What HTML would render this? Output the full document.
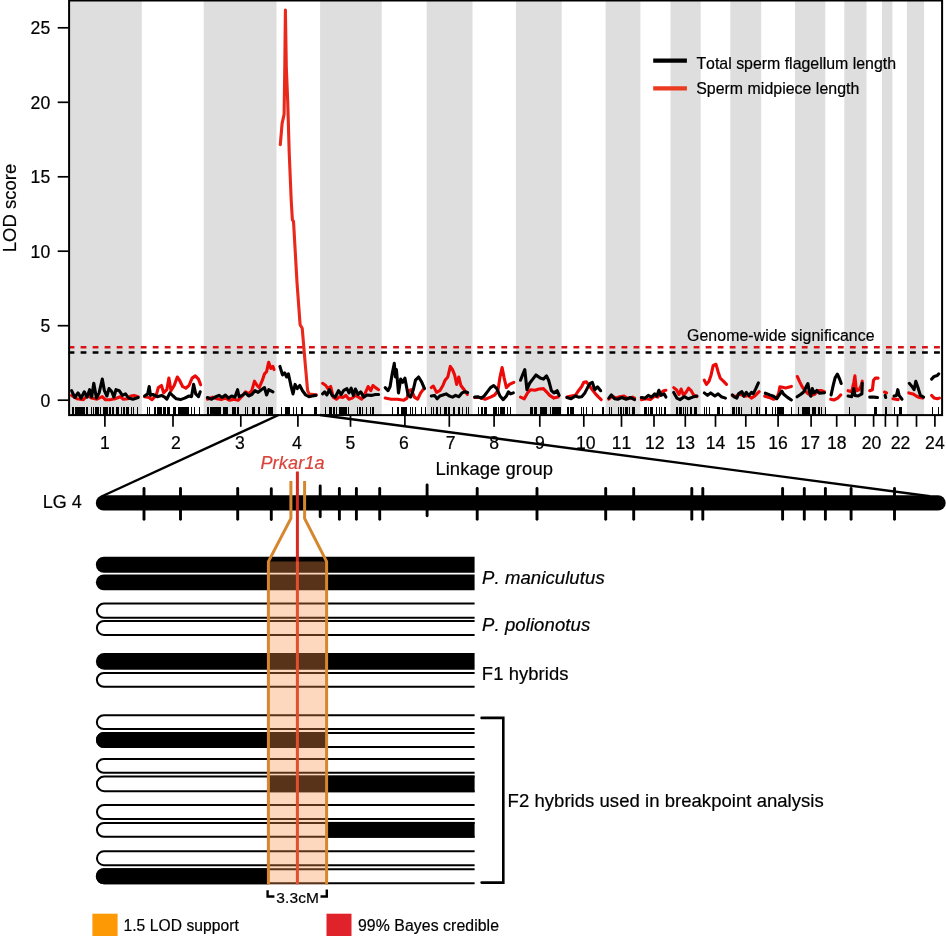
<!DOCTYPE html>
<html><head><meta charset="utf-8"><title>Figure</title>
<style>html,body{margin:0;padding:0;background:#fff}svg{display:block;will-change:transform}text{font-kerning:none;stroke:#000;stroke-width:.2px}</style></head>
<body>
<svg width="946" height="936" viewBox="0 0 946 936" font-family="'Liberation Sans', Arial, Helvetica, sans-serif" fill="#000">
<rect width="946" height="936" fill="#fff"/>
<g fill="#dedede">
<rect x="68.6" y="0" width="73.2" height="415"/>
<rect x="203.7" y="0" width="72.8" height="415"/>
<rect x="320.1" y="0" width="61.6" height="415"/>
<rect x="426.7" y="0" width="45.8" height="415"/>
<rect x="515.9" y="0" width="45.8" height="415"/>
<rect x="605.6" y="0" width="34.8" height="415"/>
<rect x="670.5" y="0" width="30.2" height="415"/>
<rect x="730.3" y="0" width="30.9" height="415"/>
<rect x="795.0" y="0" width="30.3" height="415"/>
<rect x="844.3" y="0" width="22.2" height="415"/>
<rect x="882.0" y="0" width="10.4" height="415"/>
<rect x="906.9" y="0" width="17.2" height="415"/>
</g>
<line x1="68.6" x2="942" y1="347.2" y2="347.2" stroke="#d81418" stroke-width="2.5" stroke-dasharray="5.8 6.22"/>
<line x1="68.6" x2="942" y1="352.4" y2="352.4" stroke="#000" stroke-width="2.5" stroke-dasharray="5.8 6.22"/>
<path d="M72.5 406.9V414.6M73.5 406.9V414.6M75.5 406.9V414.6M76.5 406.9V414.6M77.5 406.9V414.6M78.5 406.9V414.6M79.5 406.9V414.6M80.5 406.9V414.6M81.5 406.9V414.6M82.5 406.9V414.6M83.5 406.9V414.6M84.5 406.9V414.6M86.5 406.9V414.6M87.5 406.9V414.6M91.5 406.9V414.6M93.5 406.9V414.6M95.5 406.9V414.6M96.5 406.9V414.6M97.5 406.9V414.6M98.5 406.9V414.6M100.5 406.9V414.6M103.5 406.9V414.6M104.5 406.9V414.6M105.5 406.9V414.6M106.5 406.9V414.6M107.5 406.9V414.6M109.5 406.9V414.6M110.5 406.9V414.6M112.5 406.9V414.6M113.5 406.9V414.6M116.5 406.9V414.6M117.5 406.9V414.6M118.5 406.9V414.6M121.5 406.9V414.6M123.5 406.9V414.6M124.5 406.9V414.6M126.5 406.9V414.6M127.5 406.9V414.6M128.5 406.9V414.6M131.5 406.9V414.6M133.5 406.9V414.6M137.5 406.9V414.6M147.5 406.9V414.6M149.5 406.9V414.6M154.5 406.9V414.6M155.5 406.9V414.6M157.5 406.9V414.6M158.5 406.9V414.6M159.5 406.9V414.6M160.5 406.9V414.6M161.5 406.9V414.6M163.5 406.9V414.6M164.5 406.9V414.6M165.5 406.9V414.6M167.5 406.9V414.6M168.5 406.9V414.6M169.5 406.9V414.6M173.5 406.9V414.6M174.5 406.9V414.6M175.5 406.9V414.6M178.5 406.9V414.6M179.5 406.9V414.6M180.5 406.9V414.6M181.5 406.9V414.6M182.5 406.9V414.6M183.5 406.9V414.6M184.5 406.9V414.6M185.5 406.9V414.6M186.5 406.9V414.6M187.5 406.9V414.6M188.5 406.9V414.6M191.5 406.9V414.6M194.5 406.9V414.6M199.5 406.9V414.6M207.5 406.9V414.6M208.5 406.9V414.6M210.5 406.9V414.6M211.5 406.9V414.6M212.5 406.9V414.6M213.5 406.9V414.6M214.5 406.9V414.6M215.5 406.9V414.6M216.5 406.9V414.6M217.5 406.9V414.6M218.5 406.9V414.6M219.5 406.9V414.6M220.5 406.9V414.6M223.5 406.9V414.6M224.5 406.9V414.6M225.5 406.9V414.6M226.5 406.9V414.6M227.5 406.9V414.6M232.5 406.9V414.6M233.5 406.9V414.6M234.5 406.9V414.6M235.5 406.9V414.6M237.5 406.9V414.6M238.5 406.9V414.6M245.5 406.9V414.6M247.5 406.9V414.6M252.5 406.9V414.6M253.5 406.9V414.6M254.5 406.9V414.6M258.5 406.9V414.6M259.5 406.9V414.6M266.5 406.9V414.6M268.5 406.9V414.6M269.5 406.9V414.6M270.5 406.9V414.6M271.5 406.9V414.6M272.5 406.9V414.6M281.5 406.9V414.6M285.5 406.9V414.6M286.5 406.9V414.6M287.5 406.9V414.6M288.5 406.9V414.6M289.5 406.9V414.6M293.5 406.9V414.6M296.5 406.9V414.6M301.5 406.9V414.6M302.5 406.9V414.6M314.5 406.9V414.6M315.5 406.9V414.6M316.5 406.9V414.6M325.5 406.9V414.6M329.5 406.9V414.6M330.5 406.9V414.6M331.5 406.9V414.6M333.5 406.9V414.6M334.5 406.9V414.6M336.5 406.9V414.6M339.5 406.9V414.6M340.5 406.9V414.6M341.5 406.9V414.6M342.5 406.9V414.6M343.5 406.9V414.6M344.5 406.9V414.6M345.5 406.9V414.6M346.5 406.9V414.6M348.5 406.9V414.6M357.5 406.9V414.6M359.5 406.9V414.6M360.5 406.9V414.6M362.5 406.9V414.6M366.5 406.9V414.6M370.5 406.9V414.6M372.5 406.9V414.6M373.5 406.9V414.6M392.5 406.9V414.6M397.5 406.9V414.6M398.5 406.9V414.6M401.5 406.9V414.6M402.5 406.9V414.6M403.5 406.9V414.6M404.5 406.9V414.6M405.5 406.9V414.6M406.5 406.9V414.6M410.5 406.9V414.6M412.5 406.9V414.6M415.5 406.9V414.6M421.5 406.9V414.6M425.5 406.9V414.6M431.5 406.9V414.6M433.5 406.9V414.6M436.5 406.9V414.6M437.5 406.9V414.6M440.5 406.9V414.6M444.5 406.9V414.6M445.5 406.9V414.6M446.5 406.9V414.6M448.5 406.9V414.6M449.5 406.9V414.6M453.5 406.9V414.6M454.5 406.9V414.6M458.5 406.9V414.6M459.5 406.9V414.6M462.5 406.9V414.6M466.5 406.9V414.6M468.5 406.9V414.6M478.5 406.9V414.6M481.5 406.9V414.6M482.5 406.9V414.6M484.5 406.9V414.6M485.5 406.9V414.6M486.5 406.9V414.6M493.5 406.9V414.6M494.5 406.9V414.6M495.5 406.9V414.6M496.5 406.9V414.6M498.5 406.9V414.6M500.5 406.9V414.6M501.5 406.9V414.6M502.5 406.9V414.6M503.5 406.9V414.6M504.5 406.9V414.6M507.5 406.9V414.6M510.5 406.9V414.6M530.5 406.9V414.6M531.5 406.9V414.6M532.5 406.9V414.6M534.5 406.9V414.6M535.5 406.9V414.6M536.5 406.9V414.6M540.5 406.9V414.6M541.5 406.9V414.6M542.5 406.9V414.6M543.5 406.9V414.6M544.5 406.9V414.6M545.5 406.9V414.6M546.5 406.9V414.6M550.5 406.9V414.6M552.5 406.9V414.6M553.5 406.9V414.6M554.5 406.9V414.6M555.5 406.9V414.6M556.5 406.9V414.6M557.5 406.9V414.6M558.5 406.9V414.6M559.5 406.9V414.6M560.5 406.9V414.6M567.5 406.9V414.6M568.5 406.9V414.6M570.5 406.9V414.6M571.5 406.9V414.6M572.5 406.9V414.6M573.5 406.9V414.6M581.5 406.9V414.6M583.5 406.9V414.6M586.5 406.9V414.6M592.5 406.9V414.6M602.5 406.9V414.6M603.5 406.9V414.6M609.5 406.9V414.6M611.5 406.9V414.6M618.5 406.9V414.6M620.5 406.9V414.6M621.5 406.9V414.6M623.5 406.9V414.6M625.5 406.9V414.6M626.5 406.9V414.6M627.5 406.9V414.6M629.5 406.9V414.6M632.5 406.9V414.6M633.5 406.9V414.6M634.5 406.9V414.6M644.5 406.9V414.6M645.5 406.9V414.6M646.5 406.9V414.6M648.5 406.9V414.6M650.5 406.9V414.6M651.5 406.9V414.6M652.5 406.9V414.6M656.5 406.9V414.6M659.5 406.9V414.6M661.5 406.9V414.6M664.5 406.9V414.6M665.5 406.9V414.6M676.5 406.9V414.6M677.5 406.9V414.6M679.5 406.9V414.6M680.5 406.9V414.6M681.5 406.9V414.6M683.5 406.9V414.6M685.5 406.9V414.6M687.5 406.9V414.6M690.5 406.9V414.6M691.5 406.9V414.6M694.5 406.9V414.6M695.5 406.9V414.6M696.5 406.9V414.6M704.5 406.9V414.6M706.5 406.9V414.6M709.5 406.9V414.6M717.5 406.9V414.6M718.5 406.9V414.6M719.5 406.9V414.6M722.5 406.9V414.6M732.5 406.9V414.6M733.5 406.9V414.6M734.5 406.9V414.6M736.5 406.9V414.6M738.5 406.9V414.6M739.5 406.9V414.6M741.5 406.9V414.6M751.5 406.9V414.6M756.5 406.9V414.6M757.5 406.9V414.6M759.5 406.9V414.6M765.5 406.9V414.6M766.5 406.9V414.6M772.5 406.9V414.6M775.5 406.9V414.6M777.5 406.9V414.6M778.5 406.9V414.6M779.5 406.9V414.6M780.5 406.9V414.6M781.5 406.9V414.6M782.5 406.9V414.6M783.5 406.9V414.6M791.5 406.9V414.6M798.5 406.9V414.6M802.5 406.9V414.6M803.5 406.9V414.6M804.5 406.9V414.6M805.5 406.9V414.6M806.5 406.9V414.6M807.5 406.9V414.6M808.5 406.9V414.6M809.5 406.9V414.6M812.5 406.9V414.6M813.5 406.9V414.6M814.5 406.9V414.6M815.5 406.9V414.6M818.5 406.9V414.6M819.5 406.9V414.6M821.5 406.9V414.6M825.5 406.9V414.6M849.5 406.9V414.6M874.5 406.9V414.6M875.5 406.9V414.6M876.5 406.9V414.6M885.5 406.9V414.6M886.5 406.9V414.6M894.5 406.9V414.6M899.5 406.9V414.6M900.5 406.9V414.6M901.5 406.9V414.6M932.5 406.9V414.6M938.5 406.9V414.6" stroke="#000" stroke-width="1" fill="none" shape-rendering="crispEdges"/>
<polyline points="71.6,395.4 76.9,398.8 83.3,399.8 87.5,395.4 91.7,398.1 97.0,399.2 102.3,396.7 105.5,399.8 110.7,399.6 115.0,398.8 120.3,396.7 123.4,399.2 127.7,398.8 130.8,396.0 134.0,395.4 138.2,396.7" fill="none" stroke="#ec0a08" stroke-width="3.1" stroke-linejoin="round" stroke-linecap="round"/>
<polyline points="144.6,396.7 148.8,397.5 152.0,399.6 156.2,395.4 158.3,387.6 161.5,385.5 163.6,392.9 166.8,389.7 168.9,378.1 171.0,390.7 174.2,385.5 177.3,377.0 179.5,380.2 182.6,386.5 185.8,388.2 189.0,385.5 192.1,378.1 195.3,375.9 198.5,379.1 200.6,384.8" fill="none" stroke="#ec0a08" stroke-width="3.1" stroke-linejoin="round" stroke-linecap="round"/>
<polyline points="207.4,399.2 212.7,397.1 216.9,398.8 221.1,399.6 225.4,398.1 229.6,400.3 233.8,399.2 238.1,400.3 242.3,396.0 245.5,391.8 248.6,393.9 251.8,390.7 254.5,381.2 257.1,385.5 259.2,387.6 262.4,380.2 264.5,373.8 266.6,371.7 268.7,362.2 270.8,368.5 272.9,366.4 274.0,369.6" fill="none" stroke="#ec0a08" stroke-width="3.1" stroke-linejoin="round" stroke-linecap="round"/>
<polyline points="322.6,383.3 325.8,385.5 327.9,388.6 330.7,386.5 333.2,397.1 336.4,399.2 339.5,396.7 342.7,397.5 345.9,395.4 349.0,399.2 352.2,398.1 355.4,395.4 358.6,397.1 361.7,399.2 364.9,393.9 368.1,386.5 370.8,390.7 372.9,385.5 375.5,387.6 378.6,389.7" fill="none" stroke="#ec0a08" stroke-width="3.1" stroke-linejoin="round" stroke-linecap="round"/>
<polyline points="385.2,398.1 391.1,399.2 397.5,399.2 403.8,400.3 407.0,398.1 409.1,390.7 411.2,389.7 414.4,397.1 417.6,399.2 420.7,392.9 423.9,388.6" fill="none" stroke="#ec0a08" stroke-width="3.1" stroke-linejoin="round" stroke-linecap="round"/>
<polyline points="431.3,387.6 433.4,386.1 436.6,392.4 439.8,390.7 442.9,385.5 445.1,380.2 447.8,377.0 450.3,366.4 452.5,369.6 454.6,374.9 456.7,384.4 458.8,377.0 460.9,385.5 464.1,389.7 467.3,394.5" fill="none" stroke="#ec0a08" stroke-width="3.1" stroke-linejoin="round" stroke-linecap="round"/>
<polyline points="474.7,397.5 479.9,397.5 485.2,399.2 490.5,397.1 494.7,395.0 497.9,390.7 500.0,377.0 502.1,367.5 504.2,378.1 506.4,387.6 509.5,384.4 513.8,382.3" fill="none" stroke="#ec0a08" stroke-width="3.1" stroke-linejoin="round" stroke-linecap="round"/>
<polyline points="520.5,397.1 524.3,398.8 527.5,392.9 530.7,389.7 534.9,390.3 539.1,389.0 543.4,388.6 546.5,391.8 549.7,395.4 553.9,398.1 558.2,397.1" fill="none" stroke="#ec0a08" stroke-width="3.1" stroke-linejoin="round" stroke-linecap="round"/>
<polyline points="566.9,397.1 571.1,396.0 575.4,395.4 578.5,390.7 581.7,386.5 583.8,382.3 586.4,381.9 589.1,385.5 592.3,389.7 595.5,393.9 598.6,397.1 601.2,399.6" fill="none" stroke="#ec0a08" stroke-width="3.1" stroke-linejoin="round" stroke-linecap="round"/>
<polyline points="608.8,399.2 612.4,396.0 615.5,398.1 619.8,396.7 624.0,396.0 628.2,398.8 632.5,397.1 634.6,398.1" fill="none" stroke="#ec0a08" stroke-width="3.1" stroke-linejoin="round" stroke-linecap="round"/>
<polyline points="641.3,399.6 646.2,398.8 650.4,399.6 654.7,396.0 657.8,397.1 661.0,392.9 663.7,390.7 665.9,390.3" fill="none" stroke="#ec0a08" stroke-width="3.1" stroke-linejoin="round" stroke-linecap="round"/>
<polyline points="673.7,387.6 676.4,389.7 679.0,394.5 681.1,389.0 683.6,395.4 686.4,391.8 688.5,388.2 691.2,390.7 693.3,394.5 696.9,396.7" fill="none" stroke="#ec0a08" stroke-width="3.1" stroke-linejoin="round" stroke-linecap="round"/>
<polyline points="704.3,380.2 706.4,384.4 709.0,381.2 711.1,374.9 713.2,365.4 716.0,364.3 718.1,371.7 720.2,378.1 723.4,381.2 726.5,384.4" fill="none" stroke="#ec0a08" stroke-width="3.1" stroke-linejoin="round" stroke-linecap="round"/>
<polyline points="732.3,395.5 735.5,396.8 738.7,394.3 741.9,394.9 745.0,396.2 748.2,395.5 751.4,398.1 754.6,396.2 757.1,393.6 759.2,391.7" fill="none" stroke="#ec0a08" stroke-width="3.1" stroke-linejoin="round" stroke-linecap="round"/>
<polyline points="764.7,396.2 769.1,397.4 773.6,399.3 776.8,398.1 778.7,393.0 779.9,386.9 782.5,387.3 785.6,387.9 791.4,386.4" fill="none" stroke="#ec0a08" stroke-width="3.1" stroke-linejoin="round" stroke-linecap="round"/>
<polyline points="797.3,376.5 799.6,381.6 802.1,386.6 804.7,390.5 807.9,393.6 811.0,395.5 814.8,394.3 818.0,390.5 821.2,390.5 824.4,391.7" fill="none" stroke="#ec0a08" stroke-width="3.1" stroke-linejoin="round" stroke-linecap="round"/>
<polyline points="830.7,399.3 833.9,400.0 837.7,398.1 840.8,394.9" fill="none" stroke="#ec0a08" stroke-width="3.1" stroke-linejoin="round" stroke-linecap="round"/>
<polyline points="848.1,390.7 851.7,391.8 853.8,382.3 854.9,375.9 856.4,390.7 859.1,389.7 861.2,385.5 862.3,381.2" fill="none" stroke="#ec0a08" stroke-width="3.1" stroke-linejoin="round" stroke-linecap="round"/>
<polyline points="869.7,390.7 872.4,389.7 873.5,380.2 875.4,378.1 878.1,378.1" fill="none" stroke="#ec0a08" stroke-width="3.1" stroke-linejoin="round" stroke-linecap="round"/>
<polyline points="884.5,392.0 886.6,392.9" fill="none" stroke="#ec0a08" stroke-width="3.1" stroke-linejoin="round" stroke-linecap="round"/>
<polyline points="892.9,398.8 898.2,399.6" fill="none" stroke="#ec0a08" stroke-width="3.1" stroke-linejoin="round" stroke-linecap="round"/>
<polyline points="908.8,392.9 913.0,393.9 916.2,396.0 919.4,397.5 922.5,398.1" fill="none" stroke="#ec0a08" stroke-width="3.1" stroke-linejoin="round" stroke-linecap="round"/>
<polyline points="931.6,395.4 934.2,398.1 937.3,398.8 939.4,398.1" fill="none" stroke="#ec0a08" stroke-width="3.1" stroke-linejoin="round" stroke-linecap="round"/>
<polyline points="280.3,144.6 282.1,123.3 284.1,114.3 284.8,67.0 285.4,10.1 286.3,67.3 287.7,100.9 289.2,152.5 291.2,200.0 292.4,220.0 293.5,221.2 297.0,282.4 300.1,324.7 302.2,328.2 305.3,364.7 307.6,390.6 309.3,394.1 316.4,394.8" fill="none" stroke="#e8291c" stroke-width="3.1" stroke-linejoin="round" stroke-linecap="round"/>
<polyline points="71.6,390.7 74.8,397.5 78.0,392.9 81.1,398.1 84.3,391.8 87.1,397.1 89.6,389.7 91.7,397.1 93.8,383.3 96.4,398.1 99.1,392.9 102.3,379.1 104.4,390.7 106.9,396.0 109.0,388.6 111.8,391.8 113.9,397.1 116.0,389.7 119.2,390.7 122.4,395.4 125.5,393.9 128.7,398.1 132.9,399.2 138.2,397.5" fill="none" stroke="#000" stroke-width="3.1" stroke-linejoin="round" stroke-linecap="round"/>
<polyline points="144.6,396.0 147.7,393.9 149.2,386.5 150.5,395.4 153.0,394.5 157.3,396.7 161.5,395.4 164.7,397.1 166.8,399.2 169.9,392.9 173.1,396.0 176.3,398.8 180.5,399.6 184.7,398.1 189.0,396.0 191.5,396.7 193.6,384.4 195.7,393.9 198.5,396.7 200.2,391.8" fill="none" stroke="#000" stroke-width="3.1" stroke-linejoin="round" stroke-linecap="round"/>
<polyline points="207.4,397.5 211.6,399.2 215.9,396.7 219.0,395.4 222.2,397.5 225.4,395.0 228.5,398.1 231.7,396.0 234.9,397.1 237.6,389.7 239.1,396.7 242.3,395.4 245.5,392.9 248.6,396.0 251.8,394.5 255.0,390.7 258.1,392.4 261.3,389.7 264.5,387.6 266.6,395.0 268.7,389.7 272.9,391.8" fill="none" stroke="#000" stroke-width="3.1" stroke-linejoin="round" stroke-linecap="round"/>
<polyline points="279.9,366.4 282.5,374.9 284.6,372.8 286.7,377.0 288.4,373.8 290.9,385.5 293.0,393.9 295.1,384.4 297.3,388.6 299.8,385.5 302.5,390.7 305.7,395.0 308.9,396.7 312.1,396.0 315.9,395.4" fill="none" stroke="#000" stroke-width="3.1" stroke-linejoin="round" stroke-linecap="round"/>
<polyline points="322.6,393.9 324.7,391.8 326.8,395.0 329.4,389.7 332.1,395.4 335.3,397.1 338.5,390.7 341.2,394.5 343.8,390.3 346.9,388.6 349.0,392.9 351.2,388.2 353.3,395.4 355.4,389.0 358.1,394.5 360.7,391.8 363.8,397.1 367.0,395.0 371.2,395.4 375.5,394.5 378.6,394.5" fill="none" stroke="#000" stroke-width="3.1" stroke-linejoin="round" stroke-linecap="round"/>
<polyline points="385.2,387.6 388.0,390.7 390.1,386.5 392.2,373.8 394.3,363.3 395.4,377.0 396.4,369.6 398.5,392.9 400.7,379.1 402.8,382.3 404.9,378.1 408.1,395.0 410.6,397.1 413.3,389.7 415.5,380.2 418.6,377.0 421.8,382.3 424.5,388.6" fill="none" stroke="#000" stroke-width="3.1" stroke-linejoin="round" stroke-linecap="round"/>
<polyline points="431.3,396.0 434.5,395.4 437.2,398.8 439.8,396.0 442.9,395.0 446.1,393.9 449.3,396.0 452.5,397.1 455.6,395.4 458.8,396.7 462.0,392.9 465.1,391.8 467.7,392.4" fill="none" stroke="#000" stroke-width="3.1" stroke-linejoin="round" stroke-linecap="round"/>
<polyline points="474.7,397.1 477.8,396.7 481.0,398.1 484.2,396.0 487.3,391.8 490.5,387.6 493.7,385.5 496.8,388.6 500.0,396.0 503.2,399.6 506.4,396.0 508.5,391.8 510.6,393.9 513.3,392.9" fill="none" stroke="#000" stroke-width="3.1" stroke-linejoin="round" stroke-linecap="round"/>
<polyline points="520.5,380.2 522.6,374.9 524.8,369.6 526.9,389.7 529.6,383.3 532.8,379.1 536.0,374.9 540.2,378.1 543.4,379.1 546.5,375.9 548.6,380.2 551.4,390.7 553.9,392.9 557.1,390.7 559.2,395.4" fill="none" stroke="#000" stroke-width="3.1" stroke-linejoin="round" stroke-linecap="round"/>
<polyline points="566.9,397.5 571.1,398.8 575.4,396.0 578.5,397.1 581.7,396.7 584.9,392.9 587.6,387.6 590.2,383.3 592.3,382.3 594.8,389.7 597.6,386.9 600.7,390.7" fill="none" stroke="#000" stroke-width="3.1" stroke-linejoin="round" stroke-linecap="round"/>
<polyline points="608.8,398.1 611.3,395.0 614.5,398.8 617.7,399.2 621.9,397.5 626.1,399.2 630.3,397.5 634.6,399.6" fill="none" stroke="#000" stroke-width="3.1" stroke-linejoin="round" stroke-linecap="round"/>
<polyline points="641.3,397.5 645.1,398.1 648.3,395.4 651.5,397.1 654.7,393.9 656.8,396.0 658.9,390.3 661.0,395.4 664.2,393.9 665.9,397.1" fill="none" stroke="#000" stroke-width="3.1" stroke-linejoin="round" stroke-linecap="round"/>
<polyline points="673.7,392.4 676.8,398.1 680.0,399.6 684.2,396.7 688.5,398.8 692.7,397.1 696.9,396.0" fill="none" stroke="#000" stroke-width="3.1" stroke-linejoin="round" stroke-linecap="round"/>
<polyline points="704.3,392.9 707.5,395.4 710.7,392.9 714.9,396.0 718.1,393.9 721.2,396.7 725.5,398.1" fill="none" stroke="#000" stroke-width="3.1" stroke-linejoin="round" stroke-linecap="round"/>
<polyline points="732.3,394.9 734.2,396.8 736.8,398.1 738.7,393.6 741.9,391.7 743.8,396.2 746.3,392.4 748.8,395.5 751.4,392.4 753.3,393.6 755.8,388.6 758.4,382.8" fill="none" stroke="#000" stroke-width="3.1" stroke-linejoin="round" stroke-linecap="round"/>
<polyline points="765.3,393.2 769.8,394.9 773.6,396.2 776.8,398.7 779.3,394.9 781.8,391.1 783.7,394.3 787.5,397.4 791.4,400.0" fill="none" stroke="#000" stroke-width="3.1" stroke-linejoin="round" stroke-linecap="round"/>
<polyline points="797.1,396.8 800.9,394.3 804.0,391.7 805.9,387.3 807.9,383.5 809.1,390.5 810.8,396.2 812.3,388.6 814.2,393.0 816.7,390.5 819.3,393.2 824.4,392.7" fill="none" stroke="#000" stroke-width="3.1" stroke-linejoin="round" stroke-linecap="round"/>
<polyline points="831.1,394.9 833.2,385.4 835.1,377.8 837.4,374.2 839.6,379.0 841.2,383.5" fill="none" stroke="#000" stroke-width="3.1" stroke-linejoin="round" stroke-linecap="round"/>
<polyline points="848.1,396.0 851.7,396.7 853.8,388.6 854.9,395.4 858.1,396.0 861.9,393.9 862.3,383.3" fill="none" stroke="#000" stroke-width="3.1" stroke-linejoin="round" stroke-linecap="round"/>
<polyline points="869.7,397.1 873.9,397.1 877.5,397.5" fill="none" stroke="#000" stroke-width="3.1" stroke-linejoin="round" stroke-linecap="round"/>
<polyline points="885.1,395.4 885.7,397.5" fill="none" stroke="#000" stroke-width="3.1" stroke-linejoin="round" stroke-linecap="round"/>
<polyline points="894.0,396.0 896.5,395.4 897.8,389.7 899.1,395.4 902.0,399.2" fill="none" stroke="#000" stroke-width="3.1" stroke-linejoin="round" stroke-linecap="round"/>
<polyline points="909.2,383.3 912.0,386.5 914.1,389.7 915.8,381.2 918.3,388.6 920.4,395.4 923.6,397.1" fill="none" stroke="#000" stroke-width="3.1" stroke-linejoin="round" stroke-linecap="round"/>
<polyline points="931.6,379.1 934.2,376.4 937.3,375.5 938.8,373.8" fill="none" stroke="#000" stroke-width="3.1" stroke-linejoin="round" stroke-linecap="round"/>
<rect x="69.1" y="0.5" width="873.0" height="414.6" fill="none" stroke="#000" stroke-width="2"/>
<g stroke="#000" stroke-width="1.7">
<line x1="57.7" x2="68.6" y1="400.2" y2="400.2"/>
<line x1="57.7" x2="68.6" y1="325.7" y2="325.7"/>
<line x1="57.7" x2="68.6" y1="251.2" y2="251.2"/>
<line x1="57.7" x2="68.6" y1="176.8" y2="176.8"/>
<line x1="57.7" x2="68.6" y1="102.3" y2="102.3"/>
<line x1="57.7" x2="68.6" y1="27.8" y2="27.8"/>
<line x1="104.9" x2="104.9" y1="414.9" y2="426.8"/>
<line x1="173.0" x2="173.0" y1="414.9" y2="426.8"/>
<line x1="240.8" x2="240.8" y1="414.9" y2="426.8"/>
<line x1="297.9" x2="297.9" y1="414.9" y2="426.8"/>
<line x1="350.5" x2="350.5" y1="414.9" y2="426.8"/>
<line x1="404.9" x2="404.9" y1="414.9" y2="426.8"/>
<line x1="449.3" x2="449.3" y1="414.9" y2="426.8"/>
<line x1="494.1" x2="494.1" y1="414.9" y2="426.8"/>
<line x1="539.8" x2="539.8" y1="414.9" y2="426.8"/>
<line x1="583.8" x2="583.8" y1="414.9" y2="426.8"/>
<line x1="621.5" x2="621.5" y1="414.9" y2="426.8"/>
<line x1="654.0" x2="654.0" y1="414.9" y2="426.8"/>
<line x1="685.3" x2="685.3" y1="414.9" y2="426.8"/>
<line x1="715.5" x2="715.5" y1="414.9" y2="426.8"/>
<line x1="745.8" x2="745.8" y1="414.9" y2="426.8"/>
<line x1="778.1" x2="778.1" y1="414.9" y2="426.8"/>
<line x1="811.1" x2="811.1" y1="414.9" y2="426.8"/>
<line x1="836.7" x2="836.7" y1="414.9" y2="426.8"/>
<line x1="855.1" x2="855.1" y1="414.9" y2="426.8"/>
<line x1="873.6" x2="873.6" y1="414.9" y2="426.8"/>
<line x1="885.4" x2="885.4" y1="414.9" y2="426.8"/>
<line x1="897.5" x2="897.5" y1="414.9" y2="426.8"/>
<line x1="916.5" x2="916.5" y1="414.9" y2="426.8"/>
<line x1="934.9" x2="934.9" y1="414.9" y2="426.8"/>
</g>
<g font-size="17.6" text-anchor="end">
<text x="50.2" y="406.5">0</text>
<text x="50.2" y="332.0">5</text>
<text x="50.2" y="257.5">10</text>
<text x="50.2" y="183.1">15</text>
<text x="50.2" y="108.6">20</text>
<text x="50.2" y="34.1">25</text>
</g>
<g font-size="17.6" text-anchor="middle">
<text x="104.9" y="449">1</text>
<text x="175.8" y="449">2</text>
<text x="240.0" y="449">3</text>
<text x="296.8" y="449">4</text>
<text x="350.5" y="449">5</text>
<text x="403.8" y="449">6</text>
<text x="450.6" y="449">7</text>
<text x="494.1" y="449">8</text>
<text x="539.8" y="449">9</text>
<text x="585.8" y="449">10</text>
<text x="621.5" y="449">11</text>
<text x="654.8" y="449">12</text>
<text x="685.3" y="449">13</text>
<text x="715.5" y="449">14</text>
<text x="745.8" y="449">15</text>
<text x="778.1" y="449">16</text>
<text x="810.3" y="449">17</text>
<text x="836.7" y="449">18</text>
<text x="871.5" y="449">20</text>
<text x="900.5" y="449">22</text>
<text x="934.9" y="449">24</text>
</g>
<text font-size="18.5" text-anchor="middle" transform="translate(16.4 208) rotate(-90)">LOD score</text>
<text font-size="18.4" letter-spacing="0.08" x="435.4" y="474.5">Linkage group</text>
<line x1="653.2" x2="686.9" y1="60.6" y2="60.6" stroke="#000" stroke-width="4.2"/>
<line x1="653.2" x2="686.9" y1="88.4" y2="88.4" stroke="#ea3a20" stroke-width="4.2"/>
<text font-size="15.9" x="696.4" y="68.6">Total sperm flagellum length</text>
<text font-size="15.9" letter-spacing="0.03" x="696.2" y="94.3">Sperm midpiece length</text>
<text font-size="15.85" letter-spacing="0.07" x="687.1" y="341.2">Genome-wide significance</text>
<line x1="278.6" y1="415" x2="101.5" y2="496.5" stroke="#000" stroke-width="2.4"/>
<line x1="320" y1="415" x2="930" y2="496.2" stroke="#000" stroke-width="2.4"/>
<text font-size="18" x="42.7" y="508.3">LG 4</text>
<line x1="103.5" x2="938" y1="502.9" y2="502.9" stroke="#000" stroke-width="15.4" stroke-linecap="round"/>
<g stroke="#000" stroke-width="2.9" stroke-linecap="round">
<line x1="144.0" x2="144.0" y1="488.4" y2="519.2"/>
<line x1="180.5" x2="180.5" y1="488.4" y2="519.2"/>
<line x1="237.7" x2="237.7" y1="488.4" y2="519.2"/>
<line x1="271.3" x2="271.3" y1="488.7" y2="519.5"/>
<line x1="320.2" x2="320.2" y1="485.9" y2="516.7"/>
<line x1="339.4" x2="339.4" y1="488.4" y2="519.2"/>
<line x1="356.4" x2="356.4" y1="488.4" y2="519.2"/>
<line x1="379.7" x2="379.7" y1="488.4" y2="519.2"/>
<line x1="427.1" x2="427.1" y1="484.9" y2="515.7"/>
<line x1="477.2" x2="477.2" y1="488.4" y2="519.2"/>
<line x1="537.0" x2="537.0" y1="488.4" y2="519.2"/>
<line x1="605.7" x2="605.7" y1="488.4" y2="519.2"/>
<line x1="633.7" x2="633.7" y1="488.4" y2="519.2"/>
<line x1="691.8" x2="691.8" y1="488.4" y2="519.2"/>
<line x1="702.8" x2="702.8" y1="488.4" y2="519.2"/>
<line x1="782.6" x2="782.6" y1="488.4" y2="519.2"/>
<line x1="804.3" x2="804.3" y1="488.4" y2="519.2"/>
<line x1="825.4" x2="825.4" y1="488.4" y2="519.2"/>
<line x1="851.1" x2="851.1" y1="488.4" y2="519.2"/>
<line x1="894.5" x2="894.5" y1="488.4" y2="519.2"/>
</g>
<path d="M474.6 572.8H103.9A8.05 8.05 0 0 1 103.9 556.7H474.6Z" fill="#000"/>
<path d="M474.6 590.3H103.8A7.95 7.95 0 0 1 103.8 574.4H474.6Z" fill="#000"/>
<path d="M474.6 617.8H104.0A7.10 7.10 0 0 1 104.0 603.6H474.6" fill="#fff" stroke="#000" stroke-width="2"/>
<path d="M474.6 634.9H103.9A7.00 7.00 0 0 1 103.9 620.9H474.6" fill="#fff" stroke="#000" stroke-width="2"/>
<path d="M474.6 669.7H104.2A8.30 8.30 0 0 1 104.2 653.1H474.6Z" fill="#000"/>
<path d="M474.6 686.8H103.8A6.95 6.95 0 0 1 103.8 672.9H474.6" fill="#fff" stroke="#000" stroke-width="2"/>
<path d="M474.6 729.1H103.8A6.95 6.95 0 0 1 103.8 715.2H474.6" fill="#fff" stroke="#000" stroke-width="2"/>
<path d="M474.6 747.0H104.0A7.05 7.05 0 0 1 104.0 732.9H474.6" fill="#fff" stroke="#000" stroke-width="2"/>
<path d="M326.6 748.0H104.0A8.05 8.05 0 0 1 104.0 731.9H326.6Z" fill="#000"/>
<path d="M474.6 772.8H103.7A6.85 6.85 0 0 1 103.7 759.1H474.6" fill="#fff" stroke="#000" stroke-width="2"/>
<path d="M474.6 791.2H104.2A7.30 7.30 0 0 1 104.2 776.6H474.6" fill="#fff" stroke="#000" stroke-width="2"/>
<rect x="268.4" y="775.6" width="206.2" height="16.6" fill="#000"/>
<path d="M474.6 819.1H104.0A7.05 7.05 0 0 1 104.0 805.0H474.6" fill="#fff" stroke="#000" stroke-width="2"/>
<path d="M474.6 836.7H103.8A6.90 6.90 0 0 1 103.8 822.9H474.6" fill="#fff" stroke="#000" stroke-width="2"/>
<rect x="326.6" y="821.9" width="148.0" height="15.8" fill="#000"/>
<path d="M474.6 865.2H103.9A6.95 6.95 0 0 1 103.9 851.3H474.6" fill="#fff" stroke="#000" stroke-width="2"/>
<path d="M474.6 883.3H103.9A7.05 7.05 0 0 1 103.9 869.2H474.6" fill="#fff" stroke="#000" stroke-width="2"/>
<path d="M268.4 884.3H103.9A8.05 8.05 0 0 1 103.9 868.2H268.4Z" fill="#000"/>
<line x1="297.4" x2="297.4" y1="471.5" y2="884.3" stroke="#d62c20" stroke-width="3"/>
<rect x="268.4" y="561.5" width="58.2" height="322.8" fill="#f99047" fill-opacity="0.353"/>
<path d="M290.9 481V518.4L268.4 561.5V884.5" fill="none" stroke="#d5862f" stroke-width="3" stroke-linejoin="miter"/>
<path d="M304.6 481V518.4L326.6 561.5V884.5" fill="none" stroke="#d5862f" stroke-width="3" stroke-linejoin="miter"/>
<text font-size="18" font-style="italic" letter-spacing="0.2" fill="#d9433a" style="stroke:#d9433a" x="260.4" y="468.8">Prkar1a</text>
<text font-size="18.5" letter-spacing="0.1" font-style="italic" x="482" y="583.8">P. maniculutus</text>
<text font-size="18.5" letter-spacing="0.1" font-style="italic" x="482" y="631.3">P. polionotus</text>
<text font-size="18.4" letter-spacing="0.1" x="481.8" y="679.8">F1 hybrids</text>
<text font-size="18.5" letter-spacing="0.04" x="507.6" y="806.7">F2 hybrids used in breakpoint analysis</text>
<path d="M481.6 717.9H503.3V882.6H481.6" fill="none" stroke="#000" stroke-width="2.6" stroke-linecap="round"/>
<path d="M267.6 890.3V896.5H274.4M320.5 896.5H326.8V889.6" fill="none" stroke="#000" stroke-width="2.4"/>
<text font-size="15.5" letter-spacing="0.1" x="276.3" y="902.9">3.3cM</text>
<rect x="92.4" y="913.7" width="25.2" height="24" fill="#fd9904"/>
<text font-size="15.6" letter-spacing="0.08" x="123.4" y="931.1">1.5 LOD support</text>
<rect x="326.5" y="913.7" width="25" height="24" fill="#e0222a"/>
<text font-size="15.8" letter-spacing="0.08" x="358" y="931.1">99% Bayes credible</text>
</svg>
</body></html>
